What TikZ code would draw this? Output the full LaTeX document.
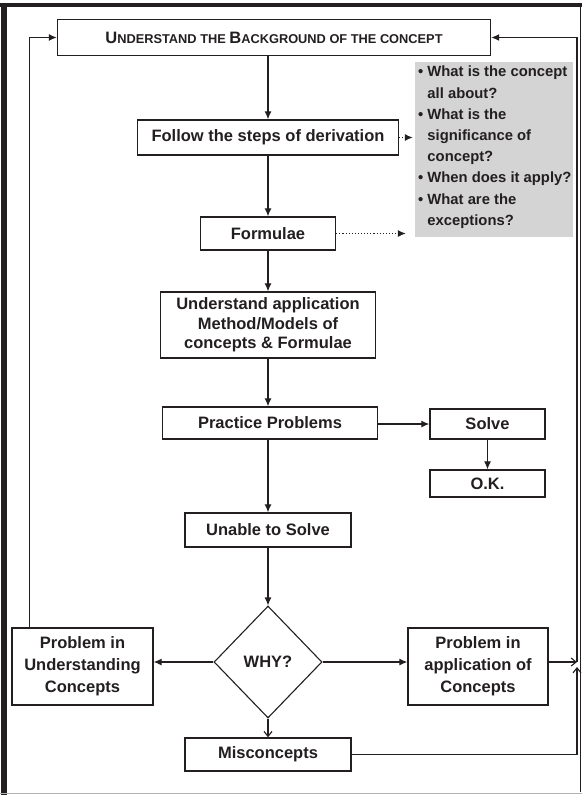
\documentclass[tikz,border=0pt]{standalone}
\usepackage{fontspec}
\setmainfont{Liberation Sans}
\usetikzlibrary{arrows.meta,shapes.geometric,calc}
\definecolor{ink}{HTML}{231F20}
\definecolor{panel}{HTML}{D4D4D4}
\newcommand\capsbig[1]{{\fontsize{16.5}{16.5}\selectfont #1}}
\begin{document}
\begin{tikzpicture}[x=1pt,y=-1pt,
  every node/.style={text=ink},
  box/.style={draw=ink, line width=1.4pt, fill=white, inner sep=0pt, align=center,
    font=\bfseries\fontsize{16.5}{19.5}\selectfont},
  flow/.style={draw=ink, line width=1.1pt, -{Latex[length=8pt,width=7pt]}},
  flowb/.style={draw=ink, line width=1.1pt, -{Straight Barb[length=5pt,width=8pt]}},
  hint/.style={draw=ink, line width=1.1pt, dotted, -{Latex[length=8pt,width=7pt]}}]
\useasboundingbox (0,0) rectangle (582,795);
\fill[white] (0,0) rectangle (582,795);
% page frame
\fill[ink] (0,3) rectangle (582,7);
\fill[ink] (1,3) rectangle (7,795);
\draw[ink, line width=0.8pt] (580,3) -- (580,792);
\draw[black!30, line width=0.8pt] (0,793.5) -- (582,793.5);

% nodes
\node[box, minimum width=433pt, minimum height=36pt, font=\bfseries\fontsize{12.8}{14}\selectfont]
  (top) at (274,37.5) {\capsbig{U}NDERSTAND THE \capsbig{B}ACKGROUND OF THE CONCEPT};
\node[fill=panel, minimum width=158pt, minimum height=175pt, inner sep=0pt] (qs) at (494,149.5) {};
\node[anchor=north west, align=left, inner sep=0pt, font=\bfseries\fontsize{14.8}{21.2}\selectfont]
  (qtext) at (418,66) {• What is the concept\\\phantom{• }all about?\\• What is the\\\phantom{• }significance of\\\phantom{• }concept?\\• When does it apply?\\• What are the\\\phantom{• }exceptions?};
\node[box, minimum width=261pt, minimum height=35pt] (fol) at (268,137.5) {Follow the steps of derivation};
\node[box, minimum width=135pt, minimum height=33pt] (form) at (268,233.5) {Formulae};
\node[box, minimum width=215pt, minimum height=66pt] (meth) at (268,325) {Understand application\\Method/Models of\\concepts \& Formulae};
\node[box, minimum width=215pt, minimum height=32pt] (prac) at (270,423) {Practice Problems};
\node[box, minimum width=115pt, minimum height=30pt] (solve) at (487.5,424) {Solve};
\node[box, minimum width=115pt, minimum height=27pt] (ok) at (487.5,483.5) {O.K.};
\node[box, minimum width=166pt, minimum height=34pt] (unable) at (268,530) {Unable to Solve};
\node[box, diamond, line width=1.1pt, minimum width=108pt, minimum height=112pt] (why) at (268,662) {WHY?};
\node[box, minimum width=141pt, minimum height=77pt, font=\bfseries\fontsize{16.5}{22}\selectfont] (under) at (82.5,666.5) {Problem in\\Understanding\\Concepts};
\node[box, minimum width=140pt, minimum height=77pt, font=\bfseries\fontsize{16.5}{22}\selectfont] (appl) at (478,666.5) {Problem in\\application of\\Concepts};
\node[box, minimum width=166pt, minimum height=33pt] (misc) at (268,754.5) {Misconcepts};

% return path coordinates
\coordinate (lrise) at ($(under.north west)+(18,0)$);
\coordinate (rjoin) at (577,662);

% main column
\draw[flow] (top.south -| fol.north) -- (fol.north);
\draw[flow] (fol) -- (form);
\draw[flow] (form) -- (meth);
\draw[flow] (meth) -- (meth.south |- prac.north);
\draw[flow] (prac.south -| unable.north) -- (unable);
\draw[flow] (unable) -- (why);
\draw[flowb] (why) -- (misc);
\draw[flow] (prac.east |- solve.west) -- (solve.west);
\draw[flow] (solve) -- (ok);
\draw[flow] (why.west) -- (why.west -| under.east);
\draw[flow] (why.east) -- (why.east -| appl.west);

% hints towards the question panel
\draw[hint] (fol.east) -- ($(fol.east -| qs.west)+(-2,0)$);
\draw[hint] (form.east) -- ($(form.east -| qs.west)+(-9,0)$);

% loops back to the top
\draw[flow] (lrise) |- (top.west);
\draw[flowb] (appl.east |- rjoin) -- (rjoin);
\draw[flowb] (misc.east) -| ($(rjoin)+(0,5)$);
\draw[flow] (rjoin) |- (top.east);
\end{tikzpicture}
\end{document}
